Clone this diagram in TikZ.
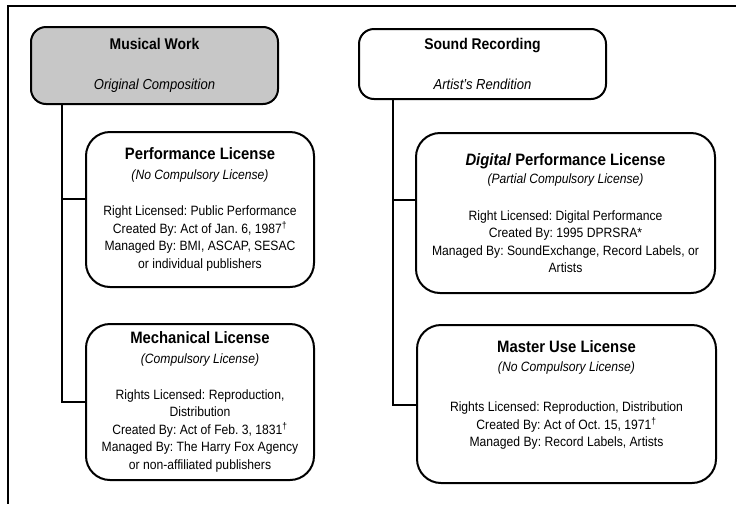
\documentclass[tikz,border=0pt]{standalone}
\usepackage{fontspec}
\setmainfont{Liberation Sans}[FakeStretch=0.9]
\newcommand{\lictitle}[1]{{\fontsize{16.5}{18}\selectfont\bfseries #1}}
\newcommand{\licnote}[1]{{\itshape #1}}
\frenchspacing
\begin{document}
\begin{tikzpicture}[x=1pt,y=-1pt,
    rootbox/.style={draw,line width=2pt,rounded corners=15pt,align=center,
      minimum width=247pt,inner sep=0pt,font=\fontsize{14.5}{18}\selectfont},
    licbox/.style={draw,line width=2pt,rounded corners=24pt,align=center,
      inner sep=0pt,font=\fontsize{13.5}{17.5}\selectfont},
    link/.style={line width=2pt}]
    \useasboundingbox (0,0) rectangle (736,504);
    \draw[line width=2pt] (736,6) -- (8,6) -- (8,504);

    \node[rootbox,fill=black!22,minimum height=77pt] (mw) at (154.5,65.5)
        {{\fontsize{15.5}{18}\selectfont\bfseries Musical Work}\\[22pt]\licnote{Original Composition}};
    \node[rootbox,fill=white,minimum height=70pt] (sr) at (482.5,64)
        {{\fontsize{15.5}{18}\selectfont\bfseries Sound Recording}\\[22pt]\licnote{Artist's Rendition}};

    \node[licbox,minimum width=228pt,minimum height=155pt] (perf) at (200,209.5)
        {\lictitle{Performance License}\\[2.5pt]\licnote{(No Compulsory License)}\\[18.5pt]
         Right Licensed: Public Performance\\
         Created By: Act of Jan. 6, 1987\textsuperscript{\dag}\\
         Managed By: BMI, ASCAP, SESAC\\
         or individual publishers};
    \node[licbox,minimum width=228pt,minimum height=156pt] (mech) at (200,402)
        {\lictitle{Mechanical License}\\[2pt]\licnote{(Compulsory License)}\\[18.5pt]
         Rights Licensed: Reproduction,\\
         Distribution\\
         Created By: Act of Feb. 3, 1831\textsuperscript{\dag}\\
         Managed By: The Harry Fox Agency\\
         or non-affiliated publishers};
    \node[licbox,minimum width=299pt,minimum height=160pt] (dig) at (565.5,213)
        {\lictitle{\textit{Digital} Performance License}\\[1pt]\licnote{(Partial Compulsory License)}\\[19pt]
         Right Licensed: Digital Performance\\
         Created By: 1995 DPRSRA*\\
         Managed By: SoundExchange, Record Labels, or\\
         Artists};
    \node[licbox,minimum width=299pt,minimum height=158pt] (mast) at (566.5,404)
        {\lictitle{Master Use License}\\[1pt]\licnote{(No Compulsory License)}\\[23pt]
         Rights Licensed: Reproduction, Distribution\\
         Created By: Act of Oct. 15, 1971\textsuperscript{\dag}\\
         Managed By: Record Labels, Artists\\[3pt]\mbox{}};

    \draw[link] ([xshift=32pt]mw.south west) |- ([yshift=11pt]perf.west);
    \draw[link] ([xshift=32pt]mw.south west) |- (mech.west);
    \draw[link] ([xshift=35pt]sr.south west) |- ([yshift=13pt]dig.west);
    \draw[link] ([xshift=35pt]sr.south west) |- ([yshift=-1pt]mast.west);
\end{tikzpicture}
\end{document}
